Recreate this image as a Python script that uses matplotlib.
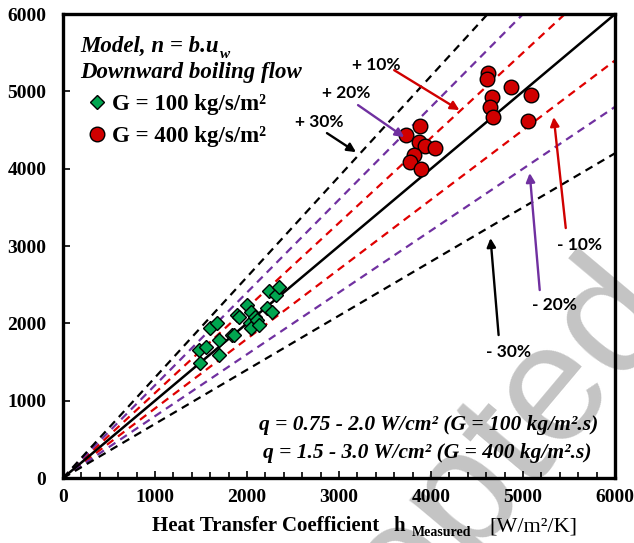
import numpy as np
import matplotlib
matplotlib.use("Agg")
import matplotlib.pyplot as plt
from matplotlib.ticker import MultipleLocator

# G = 100 kg/s/m2 (measured, model)
g100_meas = [1490, 1480, 1550, 1600, 1695, 1695, 1676, 1840, 1858, 1895, 1913,
             2004, 2033, 2040, 2040, 2087, 2113, 2131, 2222, 2277, 2240, 2313, 2349]
g100_model = [1483, 1655, 1698, 1936, 1785, 1590, 2000, 1849, 1849, 2108, 2086,
              2237, 2000, 2150, 1936, 2086, 2043, 1978, 2194, 2150, 2422, 2366, 2466]

# G = 400 kg/s/m2
g400_meas = [3884, 3724, 3865, 3938, 4040, 3815, 3767, 3895,
             4622, 4611, 4866, 5084, 4658, 4640, 4677, 5058]
g400_model = [4551, 4435, 4349, 4293, 4263, 4176, 4090, 3992,
              5233, 5155, 5060, 4952, 4922, 4801, 4672, 4616]

band_factors = [1.1, 0.9, 1.2, 0.8, 1.3, 0.7]
band_colors = ['#E00000', '#E00000', '#7030A0', '#7030A0', 'black', 'black']

RED = '#D00000'
PURPLE = '#7030A0'
SERIF = 'Liberation Serif'


def main():
    fig = plt.figure(figsize=(6.34, 5.43), dpi=100)
    ax = fig.add_axes([0.0994, 0.1197, 0.8706, 0.8543])
    ax.set_facecolor('none')

    # watermark, behind everything
    fig.text(1.07, 0.42, 'Accepted', fontfamily='Liberation Sans',
             fontsize=120, color='#C4C4C4', rotation=50, rotation_mode='anchor',
             ha='right', va='baseline', zorder=-5)

    xs = np.array([0, 6000])
    ax.plot(xs, xs, color='black', lw=1.8, zorder=2)
    for f, c in zip(band_factors, band_colors):
        ax.plot(xs, xs * f, color=c, lw=1.6, dashes=(3.6, 2.6), zorder=1)

    ax.plot(g100_meas, g100_model, 'D', color='#00A550', mec='black', mew=1.0,
            ms=7.5, ls='none', zorder=3, label='G = 100 kg/s/m²')
    ax.plot(g400_meas, g400_model, 'o', color=RED, mec='black', mew=1.0,
            ms=10.5, ls='none', zorder=3, label='G = 400 kg/s/m²')

    ax.set_xlim(0, 6000)
    ax.set_ylim(0, 6000)
    ax.xaxis.set_major_locator(MultipleLocator(1000))
    ax.xaxis.set_minor_locator(MultipleLocator(200))
    ax.yaxis.set_major_locator(MultipleLocator(1000))
    ax.tick_params(axis='both', which='both', direction='in', top=False, right=False,
                   width=1.2, labelsize=14)
    ax.tick_params(axis='both', which='major', length=5)
    ax.tick_params(axis='x', which='minor', length=4)
    ax.tick_params(axis='x', pad=8)
    ax.tick_params(axis='y', pad=12)
    for lab in ax.get_xticklabels() + ax.get_yticklabels():
        lab.set_fontfamily(SERIF)
        lab.set_fontweight('bold')
    for sp in ax.spines.values():
        sp.set_linewidth(2.4)

    # top-left caption and legend
    cap = ax.text(0.031, 0.918, 'Model, n = b.u', transform=ax.transAxes,
                  fontfamily=SERIF, fontweight='bold', fontstyle='italic',
                  fontsize=16.5, va='baseline')
    fig.canvas.draw()
    bb = cap.get_window_extent().transformed(ax.transAxes.inverted())
    ax.text(bb.x1 + 0.002, 0.905, 'w', transform=ax.transAxes,
            fontfamily=SERIF, fontweight='bold', fontstyle='italic',
            fontsize=11, va='baseline')
    ax.text(0.031, 0.862, 'Downward boiling flow', transform=ax.transAxes,
            fontfamily=SERIF, fontweight='bold', fontstyle='italic',
            fontsize=16.5, va='baseline')
    ax.legend(loc='upper left', bbox_to_anchor=(0.045, 0.828), frameon=False,
              handlelength=0.8, handletextpad=0.25, borderaxespad=0, borderpad=0,
              labelspacing=0.5, prop={'family': SERIF, 'weight': 'bold', 'size': 16.5})

    # band annotations
    labels = [('+ 10%', (3404, 5340), (3600, 5275), (4309, 4758), RED),
              ('+ 20%', (3076, 4978), (3207, 4823), (3709, 4409), PURPLE),
              ('+ 30%', (2782, 4603), (2869, 4461), (3185, 4215), 'black'),
              ('- 10%', (5618, 3013), (5465, 3233), (5334, 4668), RED),
              ('- 20%', (5345, 2237), (5182, 2431), (5073, 3944), PURPLE),
              ('- 30%', (4843, 1629), (4735, 1849), (4647, 3103), 'black')]
    for txt, pos, start, end, col in labels:
        ax.text(pos[0], pos[1], txt, fontfamily='Lato', fontweight='bold', fontsize=12.5,
                ha='center', va='center', zorder=4)
        ax.annotate('', xy=end, xytext=start,
                    arrowprops=dict(arrowstyle='-|>', color=col, lw=1.7,
                                    mutation_scale=13, shrinkA=0, shrinkB=0), zorder=4)

    # conditions
    ax.text(0.97, 0.103, 'q = 0.75 - 2.0 W/cm² (G = 100 kg/m².s)', transform=ax.transAxes,
            fontfamily=SERIF, fontweight='bold', fontstyle='italic', fontsize=15.5,
            ha='right', va='baseline')
    ax.text(0.958, 0.043, 'q = 1.5 - 3.0 W/cm² (G = 400 kg/m².s)', transform=ax.transAxes,
            fontfamily=SERIF, fontweight='bold', fontstyle='italic', fontsize=15.5,
            ha='right', va='baseline')

    # x label pieces
    ax.text(0.161, -0.115, 'Heat Transfer Coefficient', transform=ax.transAxes,
            fontfamily=SERIF, fontweight='bold', fontsize=15, va='baseline')
    ax.text(0.598, -0.115, 'h', transform=ax.transAxes,
            fontfamily=SERIF, fontweight='bold', fontsize=15, va='baseline')
    ax.text(0.632, -0.125, 'Measured', transform=ax.transAxes,
            fontfamily=SERIF, fontweight='bold', fontsize=10, va='baseline')
    ax.text(0.772, -0.115, '[W/m²/K]', transform=ax.transAxes,
            fontfamily=SERIF, fontsize=16, va='baseline')

    fig.savefig('out.png', dpi=100)


if __name__ == '__main__':
    main()
